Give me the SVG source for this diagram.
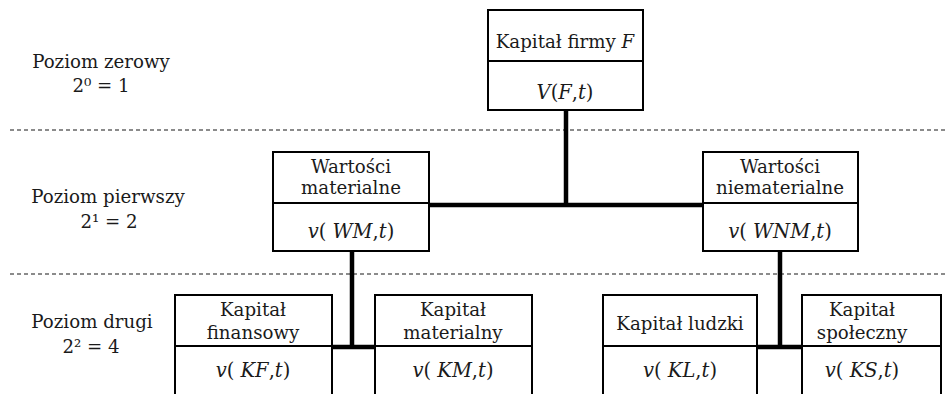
<svg xmlns="http://www.w3.org/2000/svg" width="945" height="394" viewBox="0 0 945 394">
<style>
.t{font-family:"DejaVu Serif","Liberation Serif",serif;font-size:18.2px;fill:#1a1a1a;text-anchor:middle}
.m{font-size:19.5px}
.i{font-style:italic}
.box{fill:#fff;stroke:#000;stroke-width:2}
.div{stroke:#000;stroke-width:2}
.dash{stroke:#666;stroke-width:1.3;stroke-dasharray:4 3;fill:none}
.conn{stroke:#000;stroke-width:4.5;fill:none}
</style>
<rect width="945" height="394" fill="#fff"/>
<g id="levels">
<line class="dash" x1="10" y1="130" x2="945" y2="130"/>
<line class="dash" x1="10" y1="274" x2="945" y2="274"/>
<text class="t" x="101" y="68">Poziom zerowy</text>
<text class="t" x="101" y="92">2⁰ = 1</text>
<text class="t" x="108" y="203">Poziom pierwszy</text>
<text class="t" x="109" y="228">2¹ = 2</text>
<text class="t" x="92" y="328">Poziom drugi</text>
<text class="t" x="91" y="353">2² = 4</text>
</g>
<g id="connectors">
<line class="conn" x1="566" y1="110" x2="566" y2="205"/>
<line class="conn" x1="429" y1="205" x2="703" y2="205"/>
<line class="conn" x1="352" y1="251" x2="352" y2="347"/>
<line class="conn" x1="332" y1="347" x2="375" y2="347"/>
<line class="conn" x1="780" y1="251" x2="780" y2="347"/>
<line class="conn" x1="757" y1="347" x2="802" y2="347"/>
</g>
<g id="F">
<rect class="box" x="488" y="10" width="155" height="100"/>
<line class="div" x1="488" y1="61" x2="643" y2="61"/>
<text class="t" x="565" y="48">Kapitał firmy <tspan class="i">F</tspan></text>
<text class="t m" x="565" y="99"><tspan class="i">V</tspan>(<tspan class="i">F</tspan>,<tspan class="i">t</tspan>)</text>
</g>
<g id="WM">
<rect class="box" x="273" y="152" width="156" height="99"/>
<line class="div" x1="273" y1="203" x2="429" y2="203"/>
<text class="t" x="351" y="173">Wartości</text>
<text class="t" x="351" y="194">materialne</text>
<text class="t m" x="351" y="238"><tspan class="i">v</tspan>( <tspan class="i">WM</tspan>,<tspan class="i">t</tspan>)</text>
</g>
<g id="WNM">
<rect class="box" x="703" y="152" width="155" height="99"/>
<line class="div" x1="703" y1="203" x2="858" y2="203"/>
<text class="t" x="780" y="173">Wartości</text>
<text class="t" x="780" y="194">niematerialne</text>
<text class="t m" x="780" y="238"><tspan class="i">v</tspan>( <tspan class="i">WNM</tspan>,<tspan class="i">t</tspan>)</text>
</g>
<g id="KF">
<rect class="box" x="175" y="295" width="157" height="110"/>
<line class="div" x1="175" y1="346" x2="332" y2="346"/>
<text class="t" x="253" y="316">Kapitał</text>
<text class="t" x="253" y="339">finansowy</text>
<text class="t m" x="253" y="377"><tspan class="i">v</tspan>( <tspan class="i">KF</tspan>,<tspan class="i">t</tspan>)</text>
</g>
<g id="KM">
<rect class="box" x="375" y="295" width="157" height="110"/>
<line class="div" x1="375" y1="346" x2="532" y2="346"/>
<text class="t" x="453" y="316">Kapitał</text>
<text class="t" x="453" y="339">materialny</text>
<text class="t m" x="453" y="377"><tspan class="i">v</tspan>( <tspan class="i">KM</tspan>,<tspan class="i">t</tspan>)</text>
</g>
<g id="KL">
<rect class="box" x="603" y="295" width="154" height="110"/>
<line class="div" x1="603" y1="346" x2="757" y2="346"/>
<text class="t" x="680" y="330">Kapitał ludzki</text>
<text class="t m" x="680" y="377"><tspan class="i">v</tspan>( <tspan class="i">KL</tspan>,<tspan class="i">t</tspan>)</text>
</g>
<g id="KS">
<rect class="box" x="802" y="295" width="139" height="110"/>
<line class="div" x1="802" y1="346" x2="941" y2="346"/>
<text class="t" x="862" y="316">Kapitał</text>
<text class="t" x="862" y="339">społeczny</text>
<text class="t m" x="862" y="377"><tspan class="i">v</tspan>( <tspan class="i">KS</tspan>,<tspan class="i">t</tspan>)</text>
</g>
</svg>
